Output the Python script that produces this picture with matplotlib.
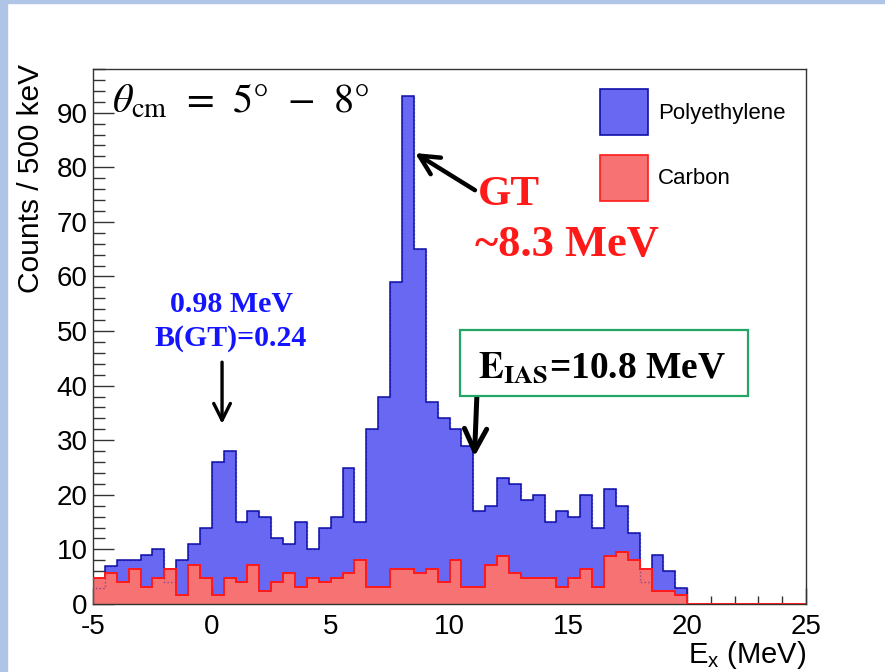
import numpy as np
import matplotlib
matplotlib.use("Agg")
import matplotlib.pyplot as plt
from matplotlib.patches import Patch, Rectangle
from matplotlib.ticker import MultipleLocator

# === DATA (counts per 500 keV bin) ===
bin_width = 0.5
edges_poly = np.arange(-5, 20 + bin_width / 2, bin_width)
edges_carbon = np.arange(-5, 25 + bin_width / 2, bin_width)

counts_poly = [3, 7, 8, 8, 9, 10, 4, 8, 11, 14,
               26, 28, 15, 17, 16, 12, 11, 15, 10, 14,
               16, 25, 15, 32, 38, 59, 93, 65, 37, 34,
               32, 29, 17, 18, 23, 22, 19, 20, 15, 17,
               16, 20, 14, 21, 18, 13, 4, 9, 6, 3]

counts_carbon = [4.8, 5.6, 4.0, 6.4, 3.2, 4.8, 6.4, 1.6, 7.2, 4.8,
                 1.6, 4.8, 4.0, 7.2, 2.4, 4.0, 5.6, 3.2, 4.8, 4.0,
                 4.8, 5.6, 8.0, 3.2, 3.2, 6.4, 6.4, 5.6, 6.4, 4.0,
                 8.0, 3.2, 3.2, 7.2, 8.8, 5.6, 4.8, 4.8, 4.8, 3.2,
                 4.8, 6.4, 3.2, 8.8, 9.6, 8.0, 6.4, 2.4, 2.4, 1.6,
                 0, 0, 0, 0, 0, 0, 0, 0, 0, 0]

labels = ["Polyethylene", "Carbon"]

# === STYLE ===
W, H = 885, 672
plt.rcParams['axes.unicode_minus'] = False
plt.rcParams['mathtext.fontset'] = 'custom'
plt.rcParams['mathtext.rm'] = 'Liberation Sans'
plt.rcParams['mathtext.it'] = 'Liberation Sans:italic'
plt.rcParams['mathtext.bf'] = 'Liberation Sans:bold'
SANS = ['Liberation Sans', 'DejaVu Sans']
SERIF = ['Liberation Serif', 'DejaVu Serif']

blue_face, blue_edge = '#6868f2', '#1010a8'
red_face, red_edge = '#f77272', '#ff1a1a'


def px(x, y):
    # pixel position (from top-left) -> figure fraction
    return x / W, 1 - y / H


fig = plt.figure(figsize=(W / 100, H / 100), dpi=100)
ax = fig.add_axes([93 / W, 1 - 604 / H, (806 - 93) / W, (604 - 69) / H])

# slide border
fig.patches.append(Rectangle((0, 0), 7 / W, 1, transform=fig.transFigure,
                             color='#b0c4e8', zorder=0))
fig.patches.append(Rectangle((0, 1 - 3 / H), 1, 3 / H, transform=fig.transFigure,
                             color='#b0c4e8', zorder=0))

# histograms
ax.stairs(counts_poly, edges_poly, fill=True, facecolor=blue_face,
          edgecolor=blue_edge, linewidth=1.1, zorder=1)
ax.stairs(counts_carbon, edges_carbon, fill=True, facecolor=red_face,
          edgecolor=red_edge, linewidth=1.1, zorder=2)
# blue outline showing faintly through the carbon pattern
ax.stairs(counts_poly, edges_poly, color=blue_edge, linewidth=1.0,
          linestyle=':', alpha=0.45, zorder=2.1)
# carbon outline drawn over the frame (red line along the axis above 20 MeV)
ax.stairs(counts_carbon, edges_carbon, color=red_edge, linewidth=1.3, zorder=2.7)

ax.set_xlim(-5, 25)
ax.set_ylim(0, 98)
ax.set_xticks(np.arange(-5, 26, 5))
ax.set_yticks(np.arange(0, 91, 10))
ax.xaxis.set_minor_locator(MultipleLocator(1))
ax.yaxis.set_minor_locator(MultipleLocator(2))
ax.tick_params(which='both', direction='in', top=False, right=False,
               color='#333333', width=1.0)
ax.tick_params(axis='x', which='major', length=11.5, pad=7.5, labelsize=20)
ax.tick_params(axis='x', which='minor', length=6)
ax.tick_params(axis='y', which='major', length=15, pad=4, labelsize=20)
ax.tick_params(axis='y', which='minor', length=8.5)
for lab in ax.get_xticklabels() + ax.get_yticklabels():
    lab.set_family(SANS)
for sp in ax.spines.values():
    sp.set_color('#333333')
    sp.set_linewidth(1.0)

# axis titles (ROOT style: aligned with axis ends)
fig.text(*px(31, 64), 'Counts / 500 keV', rotation=90, ha='center', va='top',
         fontsize=21.5, family=SANS)
fig.text(*px(806, 671), r'$\mathrm{E_x}$ (MeV)', ha='right', va='bottom',
         fontsize=21, family=SANS, math_fontfamily='custom')

# legend
handles = [Patch(facecolor=blue_face, edgecolor=blue_edge, linewidth=1.2),
           Patch(facecolor=red_face, edgecolor=red_edge, linewidth=1.2)]
ax.legend(handles, labels, loc='upper left', bbox_to_anchor=px(600, 89),
          bbox_transform=fig.transFigure, frameon=False, borderpad=0,
          borderaxespad=0, handlelength=2.15, handleheight=2.8,
          labelspacing=0.9, handletextpad=0.45,
          prop={'family': SANS, 'size': 16})

# angle label
fig.text(*px(112, 113), r'$\theta_{\mathrm{cm}}\;\,=\;\,5°\;\,-\;\,8°$', ha='left',
         va='baseline', fontsize=29, math_fontfamily='stix')

# 0.98 MeV state
fig.text(*px(231, 312), '0.98 MeV', ha='center', va='baseline', fontsize=21.5,
         family=SERIF, weight='bold', color='#1414ff')
fig.text(*px(231, 346), 'B(GT)=0.24', ha='center', va='baseline', fontsize=21.5,
         family=SERIF, weight='bold', color='#1414ff')
ax.annotate('', xy=(0.43, 33.0), xytext=(0.43, 44.3),
            arrowprops=dict(arrowstyle='->, head_length=0.6, head_width=0.3',
                            color='black', lw=2.4, shrinkA=0, shrinkB=0,
                            mutation_scale=20))

# GT resonance
fig.text(*px(478, 205), 'GT', ha='left', va='baseline', fontsize=31,
         family=SERIF, weight='bold', color='#ff1a1a')
fig.text(*px(475, 256), '~8.3 MeV', ha='left', va='baseline', fontsize=32,
         family=SERIF, weight='bold', color='#ff1a1a')
ax.annotate('', xy=(8.55, 82.6), xytext=(11.07, 75.8),
            arrowprops=dict(arrowstyle='->, head_length=0.7, head_width=0.35',
                            color='black', lw=3.2, shrinkA=0, shrinkB=0,
                            mutation_scale=20))

# IAS
fig.patches.append(Rectangle(px(460, 396), 288 / W, 66 / H,
                             transform=fig.transFigure, facecolor='white',
                             edgecolor='#22a565', linewidth=1.6, zorder=5))
fig.text(*px(478, 378), r'$\mathbf{E}_{\mathbf{IAS}}$=10.8 MeV', ha='left',
         va='baseline', fontsize=27, family=SERIF, weight='bold',
         math_fontfamily='stix', zorder=6)
ax.annotate('', xy=(11.05, 27.0), xytext=(11.15, 37.9),
            arrowprops=dict(arrowstyle='->, head_length=0.8, head_width=0.4',
                            color='black', lw=3.6, shrinkA=0, shrinkB=0,
                            mutation_scale=20))

fig.savefig('out.png', dpi=100)
